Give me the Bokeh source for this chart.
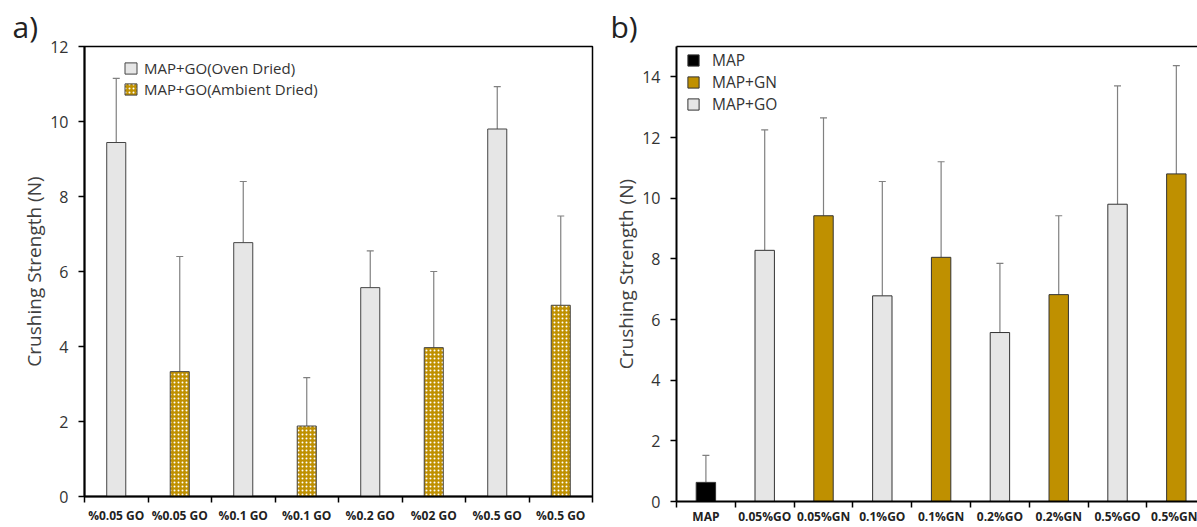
from bokeh.plotting import figure
from bokeh.layouts import row, column
from bokeh.models import (Range1d, FixedTicker, Whisker, TeeHead, ColumnDataSource,
                          Legend, LegendItem, LinearAxis)
from bokeh.embed import file_html
from bokeh.resources import INLINE

# ---------------- data ----------------
a_labels = ["%0.05 GO", "%0.05 GO", "%0.1 GO", "%0.1 GO", "%0.2 GO", "%02 GO", "%0.5 GO", "%0.5 GO"]
a_groups = ["oven", "ambient", "oven", "ambient", "oven", "ambient", "oven", "ambient"]
a_values = [9.44, 3.33, 6.77, 1.88, 5.57, 3.97, 9.80, 5.10]
a_err_top = [11.15, 6.40, 8.40, 3.17, 6.55, 6.00, 10.93, 7.48]

b_labels = ["MAP", "0.05%GO", "0.05%GN", "0.1%GO", "0.1%GN", "0.2%GO", "0.2%GN", "0.5%GO", "0.5%GN"]
b_groups = ["MAP", "GO", "GN", "GO", "GN", "GO", "GN", "GO", "GN"]
b_values = [0.63, 8.28, 9.42, 6.78, 8.05, 5.57, 6.82, 9.80, 10.80]
b_err_top = [1.52, 12.25, 12.65, 10.55, 11.20, 7.85, 9.42, 13.70, 14.37]

FONT = "Open Sans"
GOLD = "#bf9000"
GRAY = "#e6e6e6"
TXT = "#333333"


def style_axes(p, labels, ymax_tick, xstandoff):
    n = len(labels)
    centers = [i + 0.5 for i in range(n)]
    bounds = [float(i) for i in range(n + 1)]
    xa = p.xaxis[0]
    xa.ticker = FixedTicker(ticks=centers, minor_ticks=bounds)
    xa.major_label_overrides = {c: l for c, l in zip(centers, labels)}
    xa.major_tick_line_color = None
    xa.major_tick_out = 0
    xa.major_tick_in = 0
    xa.minor_tick_line_color = "black"
    xa.minor_tick_line_width = 1.5
    xa.minor_tick_out = 6
    xa.minor_tick_in = 0
    xa.axis_line_color = "black"
    xa.axis_line_width = 2
    xa.major_label_text_font = FONT
    xa.major_label_text_font_style = "bold"
    xa.major_label_text_font_size = "12px"
    xa.major_label_text_color = "#222222"
    xa.major_label_standoff = xstandoff

    ya = p.yaxis[0]
    ya.ticker = FixedTicker(ticks=list(range(0, ymax_tick + 1, 2)))
    ya.minor_tick_line_color = None
    ya.major_tick_out = 6
    ya.major_tick_in = 0
    ya.major_tick_line_color = "black"
    ya.major_tick_line_width = 1.5
    ya.axis_line_color = "black"
    ya.axis_line_width = 2
    ya.major_label_text_font = FONT
    ya.major_label_text_font_size = "16px"
    ya.major_label_text_color = TXT
    ya.major_label_standoff = 10
    ya.axis_label = "Crushing Strength (N)"
    ya.axis_label_text_font = FONT
    ya.axis_label_text_font_style = "normal"
    ya.axis_label_text_font_size = "19px"
    ya.axis_label_text_color = "#404040"
    ya.axis_label_standoff = 0
    p.xgrid.visible = False
    p.ygrid.visible = False


def panel_title(p, text, offset):
    p.title.text = text
    p.title.align = "left"
    p.title.offset = offset
    p.title.text_font = FONT
    p.title.text_font_size = "30px"
    p.title.text_font_style = "normal"
    p.title.text_color = "#222222"
    p.title.standoff = 0


# ---------------- panel a ----------------
p1 = figure(width=600, height=527, x_range=Range1d(0, 8), y_range=Range1d(0, 12),
            output_backend="svg", toolbar_location=None,
            min_border_left=84, min_border_right=8, min_border_top=46, min_border_bottom=31)
p1.outline_line_color = "black"
p1.outline_line_width = 1.5
style_axes(p1, a_labels, 12, 4)
panel_title(p1, "a)", -72)

ov = [i for i, g in enumerate(a_groups) if g == "oven"]
am = [i for i, g in enumerate(a_groups) if g == "ambient"]
src_ov = ColumnDataSource(dict(x=[i + 0.5 for i in ov], top=[a_values[i] for i in ov],
                               up=[a_err_top[i] for i in ov]))
src_am = ColumnDataSource(dict(x=[i + 0.5 for i in am], top=[a_values[i] for i in am],
                               up=[a_err_top[i] for i in am]))

for s in (src_ov, src_am):
    p1.add_layout(Whisker(source=s, base="x", lower="top", upper="up", line_color="#808080",
                          line_width=1.2, lower_head=None,
                          upper_head=TeeHead(size=7, line_color="#808080", line_width=1.2)))

r_ov = p1.vbar(x="x", top="top", width=0.3, source=src_ov, fill_color=GRAY,
               line_color="#444444", line_width=1)
r_am = p1.vbar(x="x", top="top", width=0.3, source=src_am, fill_color=GOLD,
               hatch_pattern="dot", hatch_color="white", hatch_scale=4, hatch_weight=3.2,
               line_color="#444444", line_width=1)

leg1 = Legend(items=[LegendItem(label="MAP+GO(Oven Dried)", renderers=[r_ov]),
                     LegendItem(label="MAP+GO(Ambient Dried)", renderers=[r_am])],
              location=(39, 397), border_line_color=None, background_fill_alpha=0,
              glyph_width=15, glyph_height=14, label_height=21, spacing=0, padding=2,
              label_standoff=6, label_text_font=FONT, label_text_font_size="15px",
              label_text_color=TXT)
p1.add_layout(leg1)

# ---------------- panel b ----------------
p2 = figure(width=597, height=527, x_range=Range1d(0, 8.86), y_range=Range1d(0, 15),
            output_backend="svg", toolbar_location=None,
            min_border_left=76, min_border_right=0, min_border_top=46, min_border_bottom=25)
p2.outline_line_color = None
style_axes(p2, b_labels, 14, 0)
panel_title(p2, "b)", -66)
top_ax = LinearAxis(ticker=FixedTicker(ticks=[]), major_label_text_font_size="0px",
                    axis_line_color="black", axis_line_width=1.5, major_tick_out=0,
                    major_tick_in=0, major_label_standoff=0,
                    major_tick_line_color=None, minor_tick_line_color=None)
p2.add_layout(top_ax, "above")

colors = {"MAP": "black", "GN": GOLD, "GO": GRAY}
renderers = {}
for g in ["MAP", "GN", "GO"]:
    idx = [i for i, gg in enumerate(b_groups) if gg == g]
    s = ColumnDataSource(dict(x=[i + 0.5 for i in idx], top=[b_values[i] for i in idx],
                              up=[b_err_top[i] for i in idx]))
    p2.add_layout(Whisker(source=s, base="x", lower="top", upper="up", line_color="#808080",
                          line_width=1.2, lower_head=None,
                          upper_head=TeeHead(size=7, line_color="#808080", line_width=1.2)))
    renderers[g] = p2.vbar(x="x", top="top", width=0.33, source=s, fill_color=colors[g],
                           line_color="#333333", line_width=1)

leg2 = Legend(items=[LegendItem(label="MAP", renderers=[renderers["MAP"]]),
                     LegendItem(label="MAP+GN", renderers=[renderers["GN"]]),
                     LegendItem(label="MAP+GO", renderers=[renderers["GO"]])],
              location=(10, 386), border_line_color=None, background_fill_alpha=0,
              glyph_width=14, glyph_height=14, label_height=21, spacing=0, padding=2,
              label_standoff=12, label_text_font=FONT, label_text_font_size="15.5px",
              label_text_color=TXT)
p2.add_layout(leg2)

layout = row(column(p1), column(p2))
open("out.html", "w").write(file_html(layout, INLINE))
